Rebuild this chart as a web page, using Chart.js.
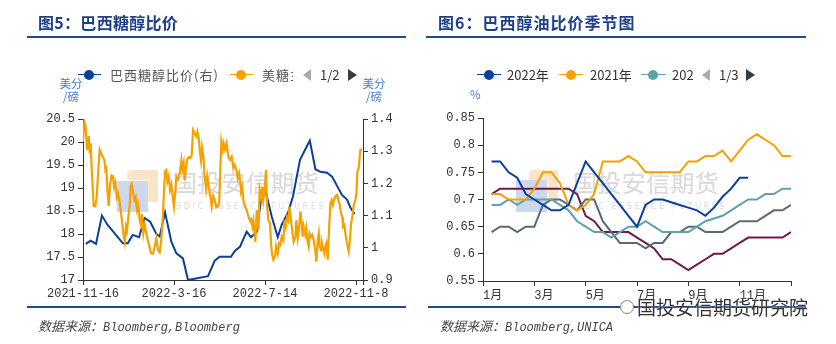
<!DOCTYPE html>
<html><head><meta charset="utf-8">
<script src="https://cdn.jsdelivr.net/npm/chart.js@4/dist/chart.umd.min.js"></script>
<style>
body{margin:0;width:836px;height:344px;background:#fff;position:relative;overflow:hidden;font-family:'Noto Sans CJK SC',sans-serif;}
.a{position:absolute;white-space:nowrap;}
.title{font-size:16px;font-weight:bold;color:#1f3f86;line-height:16px;letter-spacing:0.3px;}
.hr{height:1.5px;background:#1f4a8e;}
.src{font-style:italic;color:#444;font-size:13px;line-height:14px;}
.src .lat{font-family:'Liberation Mono',monospace;font-size:12px;}
.unit{color:#4a78d0;font-size:11.5px;line-height:13px;text-align:center;}
.lg{font-size:13px;color:#555;line-height:14px;}
.mk{height:0;border-top:1.6px solid;}
.dot{width:10px;height:10px;border-radius:50%;}
.wmt{color:#d9d9d9;font-size:24px;letter-spacing:0.3px;line-height:24px;}
.wms{color:#dcdcdc;font-size:8px;letter-spacing:2.6px;line-height:9px;font-family:'DejaVu Sans',sans-serif;}
canvas{position:absolute;top:0;}
</style></head><body>

<!-- watermarks (behind charts) -->
<div class="a" style="left:127px;top:170px;width:21px;height:22px;border-top:10px solid #fce5c6;border-right:10px solid #fce5c6;border-top-left-radius:4px;"></div>
<div class="a" style="left:117px;top:181px;width:31px;height:31px;background:#c9d4eb;opacity:0.9;"></div>
<div class="a wmt" style="left:173px;top:170px;">国投安信期货</div>
<div class="a wms" style="left:176px;top:202px;">SDIC ESSENCE FUTURES</div>

<div class="a" style="left:529px;top:170px;width:19px;height:21px;border-top:10px solid #fce5c6;border-right:10px solid #fce5c6;border-top-left-radius:4px;"></div>
<div class="a" style="left:516px;top:180px;width:31px;height:32px;background:#c9d4eb;opacity:0.9;"></div>
<div class="a wmt" style="left:573px;top:170px;">国投安信期货</div>
<div class="a wms" style="left:577px;top:202px;">SDIC ESSENCE FUTURES</div>

<canvas id="cL" width="418" height="344" style="left:0;"></canvas>
<canvas id="cR" width="418" height="344" style="left:418px;"></canvas>

<!-- titles -->
<div class="a title" style="left:38px;top:14px;">图5：巴西糖醇比价</div>
<div class="a hr" style="left:27px;top:36px;width:379px;"></div>
<div class="a title" style="left:438px;top:14px;letter-spacing:1px;">图6：巴西醇油比价季节图</div>
<div class="a hr" style="left:426px;top:36px;width:380px;"></div>

<!-- left legend -->
<div class="a mk" style="left:78px;top:74px;width:23px;border-color:#0b3f99;"></div>
<div class="a dot" style="left:84px;top:70px;background:#0b3f99;"></div>
<div class="a lg" style="left:110px;top:68px;letter-spacing:1px;">巴西糖醇比价(右)</div>
<div class="a mk" style="left:230px;top:74px;width:23px;border-color:#f5a100;"></div>
<div class="a dot" style="left:236px;top:70px;background:#f5a100;"></div>
<div class="a lg" style="left:262px;top:68px;width:31px;overflow:hidden;letter-spacing:1px;">美糖主力</div>
<div class="a" style="left:303px;top:69px;width:0;height:0;border-top:6px solid transparent;border-bottom:6px solid transparent;border-right:8px solid #aaa;"></div>
<div class="a lg" style="left:320px;top:68px;color:#333;">1/2</div>
<div class="a" style="left:348px;top:69px;width:0;height:0;border-top:6px solid transparent;border-bottom:6px solid transparent;border-left:9px solid #2e3d4c;"></div>
<div class="a unit" style="left:59px;top:77px;width:24px;">美分<br>/磅</div>
<div class="a unit" style="left:362px;top:77px;width:24px;">美分<br>/磅</div>

<!-- right legend -->
<div class="a mk" style="left:477px;top:74px;width:24px;border-color:#0b3f99;"></div>
<div class="a dot" style="left:484px;top:70px;background:#0b3f99;"></div>
<div class="a lg" style="left:507px;top:68px;color:#333;">2022年</div>
<div class="a mk" style="left:559px;top:74px;width:24px;border-color:#f5a100;"></div>
<div class="a dot" style="left:566px;top:70px;background:#f5a100;"></div>
<div class="a lg" style="left:590px;top:68px;color:#333;">2021年</div>
<div class="a mk" style="left:641px;top:74px;width:25px;border-color:#5ea3aa;"></div>
<div class="a dot" style="left:648px;top:70px;background:#5ea3aa;"></div>
<div class="a lg" style="left:672px;top:68px;width:21px;overflow:hidden;color:#333;">2020年</div>
<div class="a" style="left:702px;top:69px;width:0;height:0;border-top:6px solid transparent;border-bottom:6px solid transparent;border-right:8px solid #aaa;"></div>
<div class="a lg" style="left:719px;top:68px;color:#333;">1/3</div>
<div class="a" style="left:746px;top:69px;width:0;height:0;border-top:6px solid transparent;border-bottom:6px solid transparent;border-left:9px solid #2e3d4c;"></div>
<div class="a unit" style="left:470px;top:88px;">%</div>

<!-- footer -->
<div class="a hr" style="left:27px;top:306px;width:379px;"></div>
<div class="a hr" style="left:428px;top:306px;width:378px;"></div>
<div class="a src" style="left:38px;top:319px;">数据来源：<span class="lat">Bloomberg,Bloomberg</span></div>
<div class="a src" style="left:440px;top:319px;">数据来源：<span class="lat">Bloomberg,UNICA</span></div>
<div class="a" style="left:620px;top:300px;width:12px;height:12px;border:1.5px solid #888;border-radius:50%;background:#fff;"></div>
<div class="a" style="left:637px;top:297px;font-size:19px;line-height:20px;color:#333;text-shadow:0 0 2px #fff;">国投安信期货研究院</div>

<script>
// ---------- Figure 5 data ----------
const leftTickIdx = [0, 65, 130, 195, 200];
const leftTickLabels = ['2021-11-16', '2022-3-16', '2022-7-14', '2022-11-8', ''];
const sugarTicks = [17, 17.5, 18, 18.5, 19, 19.5, 20, 20.5];
const ratioTicks = [0.9, 1, 1.1, 1.2, 1.3, 1.4];

// 美糖 (left axis, 美分/磅): [index, value]
const sugarIdx = [0,1,1.9,2.9,4.1,4.8,5.5,6.2,6.9,7.6,8.8,9.8,10.7,11.9,12.9,14.1,15.3,16,16.7,17.6,18.4,19.3,20.3,21.5,22.2,23.1,24.1,25,26,26.9,27.9,28.8,29.8,30.7,31.4,32.4,33.3,34.1,34.8,35.7,36.7,37.6,38.6,39.5,40.5,41.4,42.2,43.1,44.1,45,46.2,47.4,48.6,50,51.2,52.4,53.6,54.8,56,56.9,57.9,58.6,59.5,60.3,61.2,62.2,63.1,64.1,65,66,66.7,67.9,69.1,70.3,71,71.9,72.6,73.4,74.3,75.5,76.7,77.6,78.6,79.8,81,81.7,82.6,83.6,84.3,85,86,86.9,87.9,88.8,89.8,91,91.9,92.9,94.1,95.3,96.5,97.4,98.1,98.8,99.8,100.5,101.5,102.6,103.8,105,106.2,107.4,108.4,109.8,110.5,111.5,112.2,112.9,113.8,114.5,115.7,116.9,118.1,119.3,120,121,121.7,122.4,123.1,124.1,125.3,126.2,127.2,128.1,128.8,129.8,130.7,131.5,132.4,133.6,134.3,135,136,137.2,137.9,139.1,140,141,141.9,143.1,143.8,144.8,145.7,146.7,147.4,148.4,149.1,150.5,151.7,152.4,153.4,154.1,155.3,156,156.9,157.6,158.8,159.5,160.5,161.2,161.9,162.9,163.8,164.8,166,166.7,167.6,168.4,169.1,170,170.7,171.5,172.4,173.1,173.8,174.8,175.5,176.7,177.6,178.4,179.3,180.5,181.5,182.4,183.4,184.3,185.3,185.7,186.7,187.4,188.6,189.8,190.5,191.5,192.4,193.4,194.5,195.3,196,196.9,198.1,199.3];
const sugarVal = [20.01,20.44,20.33,19.83,20.13,19.75,19.97,19.43,19.03,18.61,18.6,18.81,19.28,19.83,19.75,19.68,19.61,19.39,19.43,18.88,18.61,19.07,19.27,19.25,19.02,19.12,18.8,18.89,18.73,18.52,18.27,18.01,17.83,18.16,18.07,18.38,18.6,19.04,19.09,18.92,18.74,18.8,18.52,18.63,18.3,18.2,18.43,18.01,18.2,18.05,17.88,17.73,17.58,17.57,17.72,17.91,17.65,17.6,17.91,18.3,18.96,19.36,19.39,19.14,19.25,18.96,19.07,18.8,18.6,18.96,19.25,19.19,19.32,19.61,19.41,19.54,19.17,19.39,19.61,19.67,19.65,19.7,20.26,20.19,20.12,20.22,20.1,19.75,19.59,19.88,19.68,19.25,18.99,19.25,19.03,18.8,18.6,18.83,18.73,18.58,18.6,18.74,19.43,20.01,19.83,19.97,19.83,19.97,19.68,19.61,19.68,19.43,19.5,19.36,19.21,19.32,19.16,18.92,19.03,18.74,18.6,18.52,18.38,18.29,18.32,18.16,18.29,18.07,17.83,18.52,18.09,18.96,18.8,19.02,18.74,18.96,19.39,18.6,18.3,18.23,17.8,17.57,17.44,17.51,17.73,17.58,17.8,17.76,17.94,17.86,18.23,18.14,18.36,18.29,18.6,18.36,18.16,17.83,17.94,18.3,17.91,18.05,18.49,18.3,17.94,18.16,17.98,18.12,17.83,17.73,18.01,17.94,17.98,17.87,17.62,17.4,17.83,18.01,17.73,17.65,17.8,17.69,17.58,17.73,17.8,17.44,17.94,18.67,18.74,18.63,18.74,18.83,18.85,18.74,18.63,18.45,18.36,18.16,18.2,18.01,17.8,17.62,17.8,18.23,18.38,18.63,18.74,18.88,19.36,19.43,19.83,19.84];

// 巴西糖醇比价 (right axis): [index, value]
const ratioIdx = [2,5.5,9.3,13.5,17.6,28.5,32,35.5,40,44,48,52.4,54.8,58.6,63.1,66.7,71.4,75,89.3,94.1,97.6,105.7,108.6,112.1,116.9,120,124.1,127.1,130.7,134.8,139.1,141.9,146.7,150,155,162,166,169.6,174.3,177.9,185,188.6,191,194];
const ratioVal = [1.012,1.022,1.012,1.10,1.071,1.014,1.014,1.04,1.033,1.092,1.081,1.043,1.035,1.11,1.019,0.983,0.967,0.90,0.912,0.96,0.972,0.972,0.991,1.003,1.05,1.033,1.05,1.148,1.171,1.097,1.033,1.071,1.112,1.16,1.273,1.333,1.244,1.236,1.233,1.221,1.164,1.15,1.125,1.105];

// ---------- Figure 6 data (36 ten-day periods) ----------
const monthTickIdx = [0, 6, 12, 18, 24, 30, 36];
const monthLabels = ['1月', '3月', '5月', '7月', '9月', '11月', ''];
const pctTicks = [0.55, 0.6, 0.65, 0.7, 0.75, 0.8, 0.85];
const y2022 = [0.77,0.77,0.75,0.74,0.71,0.70,0.69,0.68,0.68,0.69,0.73,0.77,0.75,0.73,0.71,0.69,0.67,0.65,0.69,0.70,0.70,0.695,0.69,0.685,0.68,0.67,0.685,0.705,0.72,0.74,0.74,null,null,null,null,null];
const y2021 = [0.71,0.71,0.70,0.70,0.70,0.72,0.75,0.75,0.73,0.69,0.68,0.69,0.71,0.77,0.77,0.77,0.78,0.77,0.75,0.75,0.75,0.75,0.75,0.77,0.77,0.78,0.78,0.79,0.77,0.79,0.81,0.82,0.81,0.80,0.78,0.78];
const y2020 = [0.69,0.69,0.70,0.69,0.70,0.70,0.70,0.70,0.69,0.68,0.66,0.65,0.64,0.64,0.63,0.64,0.65,0.65,0.66,0.65,0.64,0.64,0.64,0.64,0.65,0.66,0.665,0.67,0.68,0.69,0.70,0.70,0.71,0.71,0.72,0.72];
const y2019 = [0.64,0.65,0.65,0.64,0.65,0.65,0.69,0.70,0.70,0.69,0.68,0.70,0.70,0.66,0.64,0.62,0.62,0.62,0.61,0.62,0.62,0.64,0.64,0.65,0.65,0.64,0.64,0.64,0.65,0.66,0.66,0.66,0.67,0.68,0.68,0.69];
const y2018 = [0.71,0.72,0.72,0.72,0.72,0.72,0.72,0.72,0.72,0.72,0.71,0.67,0.66,0.64,0.64,0.64,0.64,0.63,0.62,0.61,0.59,0.59,0.58,0.57,0.58,0.59,0.60,0.60,0.61,0.62,0.63,0.63,0.63,0.63,0.63,0.64];

// ---------- helpers ----------
const BLUE = '#0b3f99', ORANGE = '#f5a100', TEAL = '#5ea3aa', SLATE = '#58697a', PLUM = '#6e1a4a';
const tickFont = {family: "'Liberation Mono','Noto Sans CJK SC',monospace", size: 12};
const pairs = (xs, ys) => xs.map((x, i) => ({x: x, y: ys[i]}));
const seq = ys => ys.map((y, i) => ({x: i + 1, y: y}));
const fixedTicks = vals => (scale) => { scale.ticks = vals.map(v => ({value: v})); };
const axisGrid = {display: true, drawOnChartArea: false, drawTicks: true, tickLength: 5, color: '#333', lineWidth: 1};
const axisBorder = {display: true, color: '#333', width: 1};
const line = (label, data, color, extra) => Object.assign({label, data, borderColor: color, backgroundColor: color, borderWidth: 2, pointRadius: 0, tension: 0, fill: false}, extra || {});

new Chart(document.getElementById('cL'), {
  type: 'line',
  data: {datasets: [
    line('美糖主力', pairs(sugarIdx, sugarVal), ORANGE, {yAxisID: 'yL', order: 0, borderWidth: 2.2}),
    line('巴西糖醇比价(右)', pairs(ratioIdx, ratioVal), BLUE, {yAxisID: 'yR', order: 1})
  ]},
  options: {
    responsive: false, animation: false, devicePixelRatio: 1,
    layout: {padding: {top: 119, bottom: 39, left: 0, right: 0}},
    plugins: {legend: {display: false}, tooltip: {enabled: false}},
    scales: {
      x: {type: 'linear', min: 0, max: 200, grid: axisGrid, border: axisBorder,
          afterBuildTicks: fixedTicks(leftTickIdx),
          ticks: {autoSkip: false, maxRotation: 0, font: tickFont, color: '#333', padding: 2,
                  callback: v => leftTickLabels[leftTickIdx.indexOf(v)]},
          afterFit: s => { s.height = 25; }},
      yL: {type: 'linear', position: 'left', min: 17, max: 20.5, grid: axisGrid, border: axisBorder,
           afterBuildTicks: fixedTicks(sugarTicks),
           ticks: {font: tickFont, color: '#333', padding: 3, callback: v => String(v)},
           afterFit: s => { s.width = 83; }},
      yR: {type: 'linear', position: 'right', min: 0.9, max: 1.4, grid: axisGrid, border: axisBorder,
           afterBuildTicks: fixedTicks(ratioTicks),
           ticks: {font: tickFont, color: '#333', padding: 3, callback: v => String(v)},
           afterFit: s => { s.width = 55; }}
    }
  }
});

new Chart(document.getElementById('cR'), {
  type: 'line',
  data: {datasets: [
    line('2022年', seq(y2022), BLUE),
    line('2021年', seq(y2021), ORANGE),
    line('2020年', seq(y2020), TEAL),
    line('2019年', seq(y2019), SLATE),
    line('2018年', seq(y2018), PLUM)
  ]},
  options: {
    responsive: false, animation: false, devicePixelRatio: 1,
    layout: {padding: {top: 118, bottom: 38, left: 0, right: 45}},
    plugins: {legend: {display: false}, tooltip: {enabled: false}},
    scales: {
      x: {type: 'linear', min: 0, max: 36, grid: axisGrid, border: axisBorder,
          afterBuildTicks: fixedTicks(monthTickIdx),
          ticks: {autoSkip: false, maxRotation: 0, align: 'start', font: tickFont, color: '#333', padding: 3,
                  callback: v => monthLabels[monthTickIdx.indexOf(v)]},
          afterFit: s => { s.height = 25; }},
      y: {type: 'linear', position: 'left', min: 0.55, max: 0.85, grid: axisGrid, border: axisBorder,
          afterBuildTicks: fixedTicks(pctTicks),
          ticks: {font: tickFont, color: '#333', padding: 3, callback: v => String(v)},
          afterFit: s => { s.width = 65; }}
    }
  }
});
</script>
</body></html>
